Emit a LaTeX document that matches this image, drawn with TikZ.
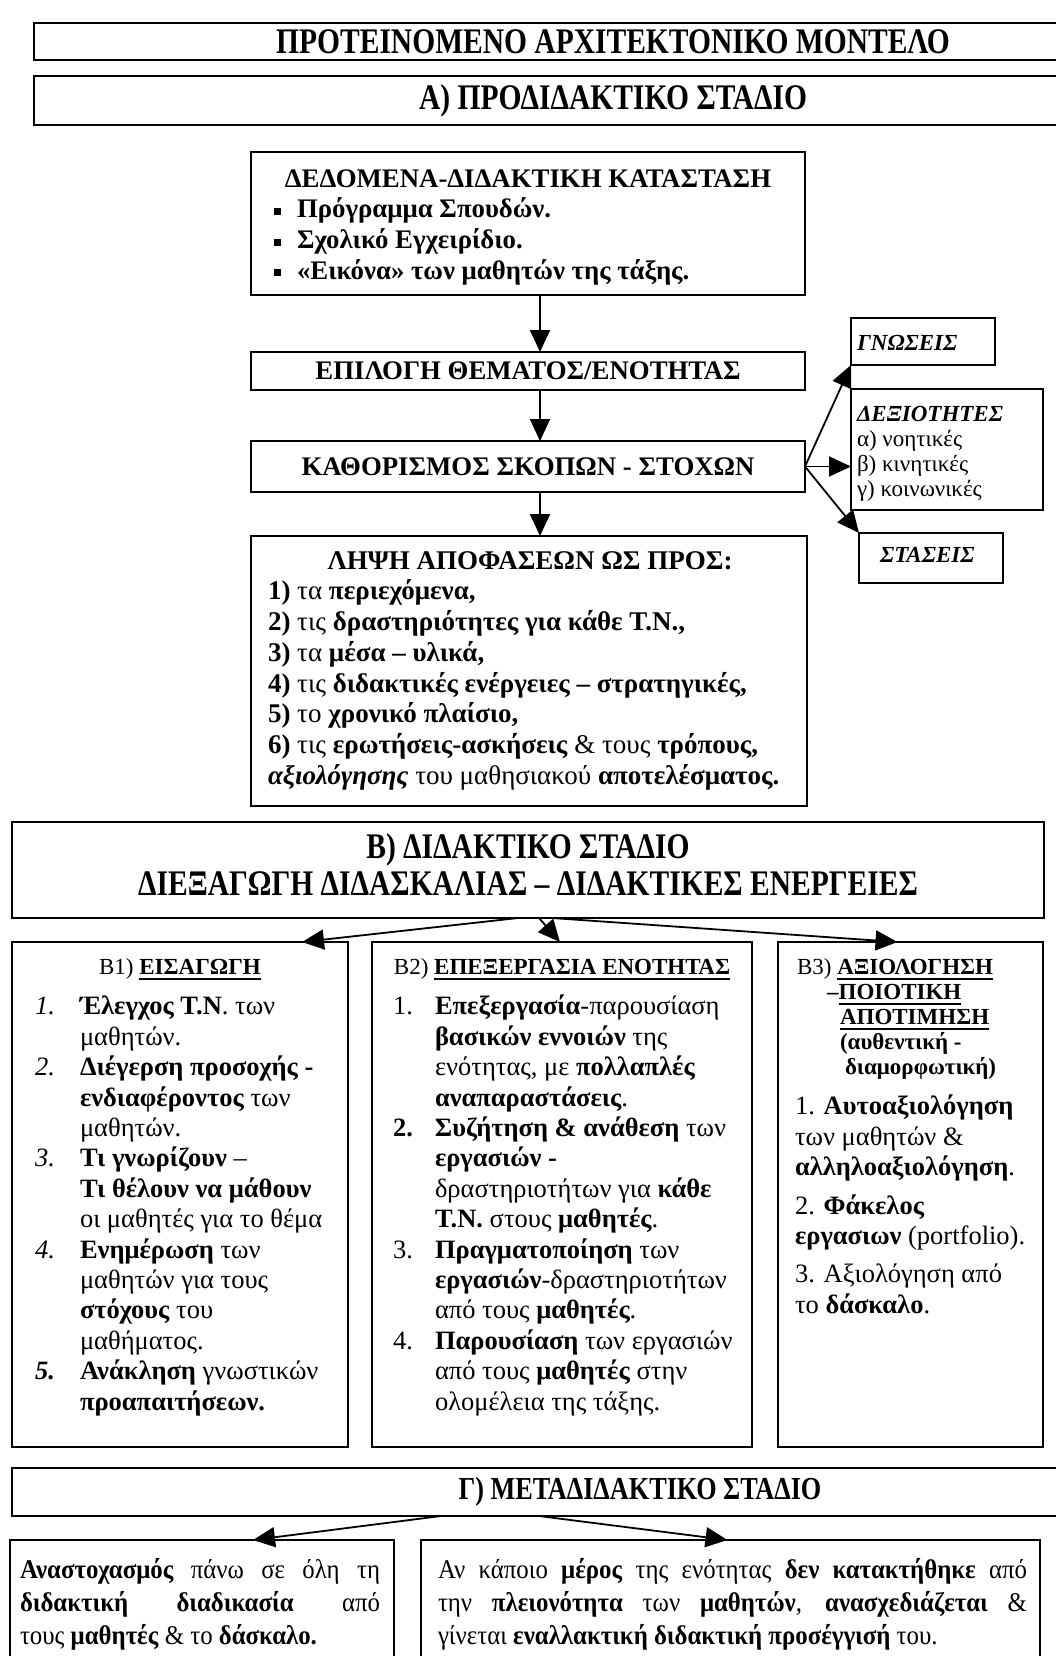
\documentclass[tikz,border=0pt]{standalone}
\usepackage{fontspec}
\setmainfont{Liberation Serif}
\newfontfamily\stenofont[FakeStretch=0.82, BoldFont={Liberation Serif Bold}]{Liberation Serif}
\newfontfamily\katofamily[FakeStretch=0.92]{Liberation Serif}
\usetikzlibrary{arrows.meta}

\newcommand{\titlosfont}{\stenofont\bfseries\fontsize{36}{37}\selectfont}
\newcommand{\gammafont}{\stenofont\bfseries\fontsize{32}{37}\selectfont}
\newcommand{\koutifont}{\fontsize{26.8}{30.7}\selectfont}
\newcommand{\lipsifont}{\fontsize{27}{30.7}\selectfont}
\newcommand{\stilifont}{\fontsize{26.5}{30.4}\selectfont}
\newcommand{\mikrofont}{\fontsize{23}{25}\selectfont}
\newcommand{\katofont}{\katofamily\fontsize{27}{33}\selectfont}
\newsavebox{\ypbox}
\newcommand{\ypogr}[1]{\sbox{\ypbox}{#1}\rlap{\rule[-5.5pt]{\wd\ypbox}{1.8pt}}\usebox{\ypbox}}
\newcommand{\koukida}{\rule[3pt]{7pt}{7pt}\hspace{16pt}}

\tikzset{
  kouti/.style={draw, line width=1.8pt, inner sep=0pt, outer sep=0pt},
  titlos/.style={kouti, line width=2.6pt, font=\titlosfont},
  grammi/.style={inner sep=0pt, outer sep=0pt, anchor=base},
  lista/.style={inner sep=0pt, outer sep=0pt, anchor=north west, align=left},
  velos/.style={line width=1.8pt, -{Triangle[length=22pt,width=20pt]}},
}

\begin{document}
\begin{tikzpicture}[x=1pt,y=-1pt]  % ------ Το μοντέλο -----------------------------
    \useasboundingbox (0,0) rectangle (1056,1656);
    \clip (0,0) rectangle (1056,1656);
    \node[titlos, minimum width=1158, minimum height=37] (modelo) at (613,41.5) {ΠΡΟΤΕΙΝΟΜΕΝΟ ΑΡΧΙΤΕΚΤΟΝΙΚΟ ΜΟΝΤΕΛΟ};
    \node[titlos, minimum width=1158, minimum height=49] (stadioA) at (613,100.5) {Α) ΠΡΟΔΙΔΑΚΤΙΚΟ ΣΤΑΔΙΟ};
    % ------ Α) προδιδακτικό στάδιο -----
    \coordinate (axonas) at (540,0);
    \node[kouti, anchor=north west, minimum width=554, minimum height=143] (dedomena) at (251,152) {};
    \node[grammi, font=\koutifont\bfseries] (dedomenatitlos) at (528,188) {ΔΕΔΟΜΕΝΑ-ΔΙΔΑΚΤΙΚΗ ΚΑΤΑΣΤΑΣΗ};
    \node[lista, font=\koutifont\bfseries] (dedomenalista) at (274,196.5)
      {\strut\koukida Πρόγραμμα Σπουδών.\\ \koukida Σχολικό Εγχειρίδιο.\\ \koukida «Εικόνα» των μαθητών της τάξης.};
    \node[kouti, anchor=north west, minimum width=554, minimum height=38, font=\koutifont\bfseries] (epilogi) at (251,352) {ΕΠΙΛΟΓΗ ΘΕΜΑΤΟΣ/ΕΝΟΤΗΤΑΣ};
    \node[kouti, anchor=north west, minimum width=554, minimum height=51, font=\koutifont\bfseries] (skopoi) at (251,441) {ΚΑΘΟΡΙΣΜΟΣ ΣΚΟΠΩΝ - ΣΤΟΧΩΝ};
    \node[kouti, anchor=north west, minimum width=556, minimum height=270] (lipsi) at (251,536) {};
    \node[grammi, font=\lipsifont\bfseries] (lipsititlos) at (530,569) {ΛΗΨΗ ΑΠΟΦΑΣΕΩΝ ΩΣ ΠΡΟΣ:};
    \node[lista, font=\lipsifont] (lipsilista) at (268,578.5)
      {\strut\textbf{1)} τα \textbf{περιεχόμενα,}\\
       \textbf{2)} τις \textbf{δραστηριότητες για κάθε Τ.Ν.,}\\
       \textbf{3)} τα \textbf{μέσα – υλικά,}\\
       \textbf{4)} τις \textbf{διδακτικές ενέργειες – στρατηγικές,}\\
       \textbf{5)} το \textbf{χρονικό πλαίσιο,}\\
       \textbf{6)} τις \textbf{ερωτήσεις-ασκήσεις} \& τους \textbf{τρόπους,}\\
       \textbf{\textit{αξιολόγησης}} του μαθησιακού \textbf{αποτελέσματος.}};
    \draw[velos] (dedomena.south -| axonas) -- (epilogi.north -| axonas);
    \draw[velos] (epilogi.south -| axonas) -- (skopoi.north -| axonas);
    \draw[velos] (skopoi.south -| axonas) -- (lipsi.north -| axonas);
    % ------ στόχοι -----
    \node[kouti, anchor=north west, minimum width=144, minimum height=47] (gnoseis) at (851,318) {};
    \node[grammi, anchor=base west, font=\mikrofont] (gnoseiskeim) at (857,350) {\textbf{\textit{ΓΝΩΣΕΙΣ}}};
    \node[kouti, anchor=north west, minimum width=192, minimum height=121] (dexiotites) at (851,389) {};
    \node[lista, font=\mikrofont] (dexiotiteskeim) at (857,403.5)
      {\strut\textbf{\textit{ΔΕΞΙΟΤΗΤΕΣ}}\\ α) νοητικές\\ β) κινητικές\\ γ) κοινωνικές};
    \node[kouti, anchor=north west, minimum width=144, minimum height=50] (staseis) at (859,533) {};
    \node[grammi, anchor=base west, font=\mikrofont] (staseiskeim) at (880,562) {\textbf{\textit{ΣΤΑΣΕΙΣ}}};
    \draw[velos] (skopoi.east) -- (gnoseis.south west);
    \draw[velos] (skopoi.east) -- (skopoi.east -| dexiotites.west);
    \draw[velos] (skopoi.east) -- (staseis.north west);
    % ------ Β) διδακτικό στάδιο -----
    \node[titlos, anchor=north west, minimum width=1032, minimum height=96] (stadioB) at (12,822) {};
    \node[lista, anchor=north, align=center, font=\titlosfont] (stadioBkeim) at (528,833)
      {\strut Β) ΔΙΔΑΚΤΙΚΟ ΣΤΑΔΙΟ\\ ΔΙΕΞΑΓΩΓΗ ΔΙΔΑΣΚΑΛΙΑΣ – ΔΙΔΑΚΤΙΚΕΣ ΕΝΕΡΓΕΙΕΣ};
    \node[kouti, anchor=north west, minimum width=336, minimum height=505] (eisagogi) at (12,942) {};
    \node[kouti, anchor=north west, minimum width=380, minimum height=505] (epexergasia) at (372,942) {};
    \node[kouti, anchor=north west, minimum width=265, minimum height=505] (axiologisi) at (778,942) {};
    \draw[velos] ([xshift=-10pt]stadioB.south) -- ([xshift=122pt]eisagogi.north);
    \draw[velos] ([xshift=11pt]stadioB.south) -- ([xshift=-2pt]epexergasia.north);
    \draw[velos] ([xshift=24pt]stadioB.south) -- ([xshift=-13pt]axiologisi.north);
    % Β1
    \node[grammi, font=\mikrofont] (eisagogititlos) at (180,974) {Β1) \ypogr{\textbf{ΕΙΣΑΓΩΓΗ}}};
    \node[lista, font=\stilifont] (eisagogilista) at (35,993.7)
      {\begin{tabular}{@{}p{45pt}@{}l@{}}
       \textit{1.} & \textbf{Έλεγχος Τ.Ν}. των\\
        & μαθητών.\\
       \textit{2.} & \textbf{Διέγερση προσοχής -}\\
        & \textbf{ενδιαφέροντος} των\\
        & μαθητών.\\
       \textit{3.} & \textbf{Τι γνωρίζουν} –\\
        & \textbf{Τι θέλουν να μάθουν}\\
        & οι μαθητές για το θέμα\\
       \textit{4.} & \textbf{Ενημέρωση} των\\
        & μαθητών για τους\\
        & \textbf{στόχους} του\\
        & μαθήματος.\\
       \textbf{\textit{5.}} & \textbf{Ανάκληση} γνωστικών\\
        & \textbf{προαπαιτήσεων.}
       \end{tabular}};
    % Β2
    \node[grammi, font=\mikrofont] (epexergasiatitlos) at (562,974) {Β2) \ypogr{\textbf{ΕΠΕΞΕΡΓΑΣΙΑ ΕΝΟΤΗΤΑΣ}}};
    \node[lista, font=\stilifont] (epexergasialista) at (393,993.7)
      {\begin{tabular}{@{}p{42pt}@{}l@{}}
       1. & \textbf{Επεξεργασία}-παρουσίαση\\
        & \textbf{βασικών εννοιών} της\\
        & ενότητας, με \textbf{πολλαπλές}\\
        & \textbf{αναπαραστάσεις}.\\
       \textbf{2.} & \textbf{Συζήτηση \& ανάθεση} των\\
        & \textbf{εργασιών -}\\
        & δραστηριοτήτων για \textbf{κάθε}\\
        & \textbf{Τ.Ν.} στους \textbf{μαθητές}.\\
       3. & \textbf{Πραγματοποίηση} των\\
        & \textbf{εργασιών}-δραστηριοτήτων\\
        & από τους \textbf{μαθητές}.\\
       4. & \textbf{Παρουσίαση} των εργασιών\\
        & από τους \textbf{μαθητές} στην\\
        & ολομέλεια της τάξης.
       \end{tabular}};
    % Β3
    \node[lista, font=\mikrofont] (axiologisititlos) at (797,956.5)
      {\strut Β3) \ypogr{\textbf{ΑΞΙΟΛΟΓΗΣΗ}}\\
       \hspace*{30pt}\textbf{–}\ypogr{\textbf{ΠΟΙΟΤΙΚΗ}}\\
       \hspace*{43pt}\ypogr{\textbf{ΑΠΟΤΙΜΗΣΗ}}\\
       \hspace*{43pt}\textbf{(αυθεντική -}\\
       \hspace*{48pt}\textbf{διαμορφωτική)}};
    \node[lista, font=\stilifont] (axiologisilista) at (795,1093.7)
      {\strut 1. \textbf{Αυτοαξιολόγηση}\\ των μαθητών \&\\ \textbf{αλληλοαξιολόγηση}.\\[8pt]
       2. \textbf{Φάκελος}\\ \textbf{εργασιων} (portfolio).\\[8pt]
       3. Αξιολόγηση από\\ το \textbf{δάσκαλο}.};
    % ------ Γ) μεταδιδακτικό στάδιο -----
    \node[titlos, minimum width=1256, minimum height=48, font=\gammafont] (stadioG) at (640,1492) {Γ) ΜΕΤΑΔΙΔΑΚΤΙΚΟ ΣΤΑΔΙΟ};
    \node[kouti, anchor=north west, minimum width=384, minimum height=140] (anastoxasmos) at (10,1540) {};
    \node[kouti, anchor=north west, minimum width=619, minimum height=140] (anasxediasmos) at (421,1540) {};
    \draw[velos] ([xshift=-199pt]stadioG.south) -- ([xshift=51pt]anastoxasmos.north);
    \draw[velos] ([xshift=-101pt]stadioG.south) -- ([xshift=-3pt]anasxediasmos.north);
    \node[lista, text width=360, align=justify, font=\katofont] (anastoxasmoskeim) at (20,1554.9)
      {\strut\textbf{Αναστοχασμός} πάνω σε όλη τη\linebreak
       \textbf{διδακτική διαδικασία} από\linebreak
       τους \textbf{μαθητές} \& το \textbf{δάσκαλο.}};
    \node[lista, text width=589, align=justify, font=\katofont] (anasxediasmoskeim) at (438,1554.9)
      {\strut Αν κάποιο \textbf{μέρος} της ενότητας \textbf{δεν κατακτήθηκε} από\linebreak
       την \textbf{πλειονότητα} των \textbf{μαθητών}, \textbf{ανασχεδιάζεται} \&\linebreak
       γίνεται \textbf{εναλλακτική διδακτική προσέγγισή} του.};
\end{tikzpicture}
\end{document}
